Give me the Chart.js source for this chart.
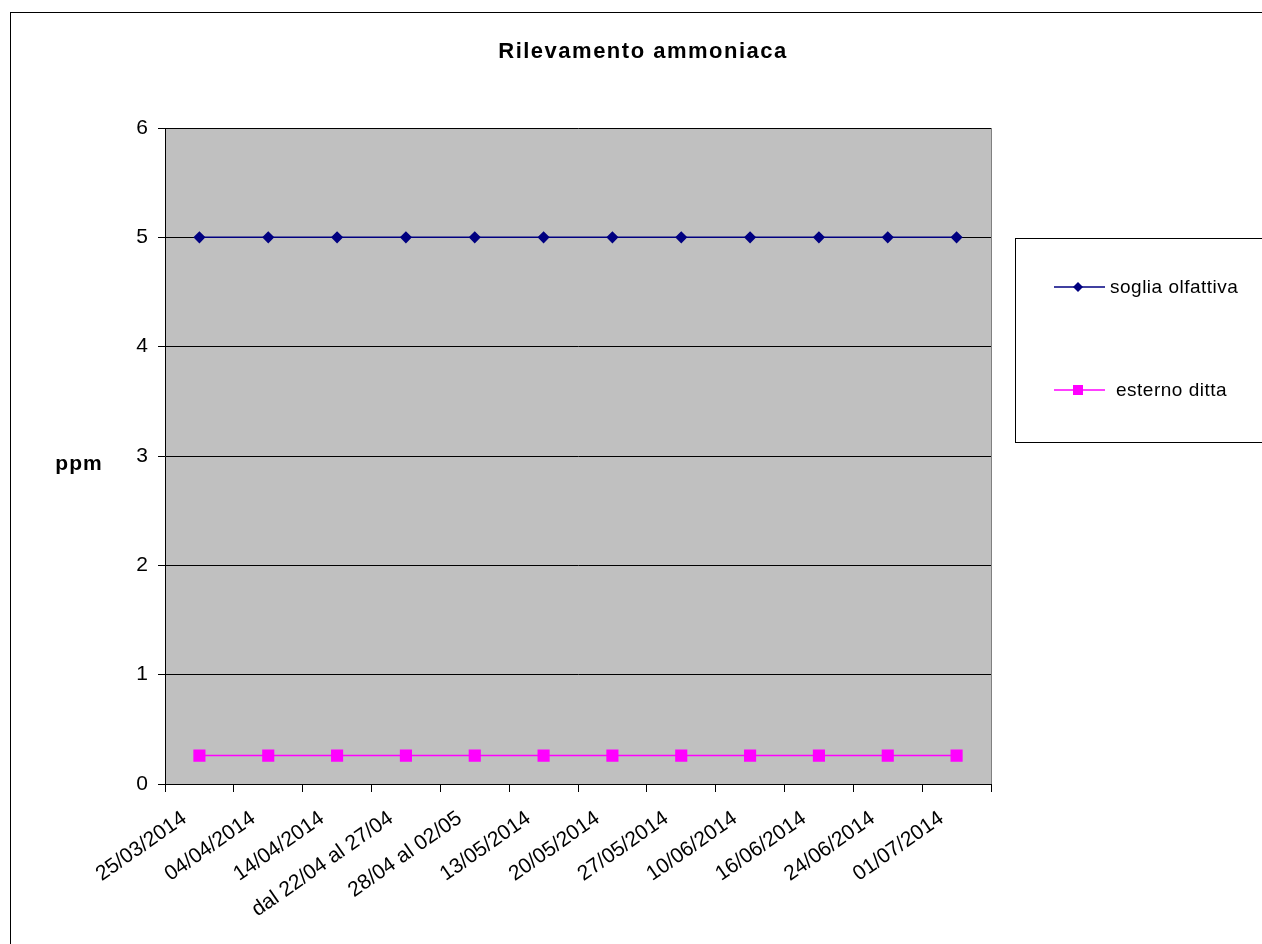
<!DOCTYPE html>
<html>
<head>
<meta charset="utf-8">
<title>Rilevamento ammoniaca</title>
<script src="https://cdn.jsdelivr.net/npm/chart.js@4/dist/chart.umd.min.js"></script>
<style>
  html, body { margin: 0; padding: 0; background: #fff; }
  #wrap { width: 1262px; height: 944px; }
</style>
</head>
<body>
<div id="wrap"><canvas id="theChart" width="1262" height="944"></canvas></div>
<script>
"use strict";

// Data
const dates = [
  "25/03/2014", "04/04/2014", "14/04/2014", "dal 22/04 al 27/04",
  "28/04 al 02/05", "13/05/2014", "20/05/2014", "27/05/2014",
  "10/06/2014", "16/06/2014", "24/06/2014", "01/07/2014"
];
const sogliaOlfattiva = [5, 5, 5, 5, 5, 5, 5, 5, 5, 5, 5, 5];
const esternoDitta = [0.26, 0.26, 0.26, 0.26, 0.26, 0.26, 0.26, 0.26, 0.26, 0.26, 0.26, 0.26];
const seriesNames = ["soglia olfattiva", "esterno ditta"];
const chartTitle = "Rilevamento ammoniaca";
const yTitle = "ppm";

const FONT = "'Liberation Sans', Arial, sans-serif";

// Background, frame, title, axis label and legend box
const decor = {
  id: "decor",
  beforeDraw(chart) {
    const { ctx, chartArea: a } = chart;
    ctx.save();
    ctx.fillStyle = "#fff";
    ctx.fillRect(0, 0, chart.width, chart.height);
    ctx.fillStyle = "#c0c0c0";
    ctx.fillRect(a.left, a.top, a.right - a.left, a.bottom - a.top);
    ctx.restore();
  },
  afterDraw(chart) {
    const { ctx, chartArea: a } = chart;
    ctx.save();

    // plot area right edge
    ctx.strokeStyle = "#808080";
    ctx.lineWidth = 1;
    ctx.beginPath();
    ctx.moveTo(Math.round(a.right) + 0.5, a.top);
    ctx.lineTo(Math.round(a.right) + 0.5, a.bottom);
    ctx.stroke();

    // outer frame
    ctx.strokeStyle = "#000";
    ctx.strokeRect(10.5, 12.5, chart.width, chart.height);

    // title
    ctx.fillStyle = "#000";
    ctx.font = "bold 22px " + FONT;
    ctx.letterSpacing = "1.5px";
    ctx.textAlign = "center";
    ctx.textBaseline = "middle";
    ctx.fillText(chartTitle, 643, 52);

    // y label
    ctx.font = "bold 21px " + FONT;
    ctx.letterSpacing = "1px";
    ctx.fillText(yTitle, 79, 464);

    // legend
    ctx.letterSpacing = "0.5px";
    ctx.strokeStyle = "#000";
    ctx.strokeRect(1015.5, 238.5, 260, 204);
    ctx.font = "19px " + FONT;
    ctx.textAlign = "left";
    const rows = [287, 390];
    const textX = [1110, 1116];
    chart.data.datasets.forEach((ds, i) => {
      const y = rows[i];
      ctx.strokeStyle = ds.borderColor;
      ctx.lineWidth = 1.5;
      ctx.beginPath();
      ctx.moveTo(1054, y);
      ctx.lineTo(1105, y);
      ctx.stroke();
      ctx.fillStyle = ds.pointBackgroundColor;
      ctx.beginPath();
      if (ds.pointStyle === "rectRot") {
        ctx.moveTo(1078 - 5, y);
        ctx.lineTo(1078, y - 5);
        ctx.lineTo(1078 + 5, y);
        ctx.lineTo(1078, y + 5);
        ctx.closePath();
      } else {
        ctx.rect(1078 - 5, y - 5, 10, 10);
      }
      ctx.fill();
      ctx.fillStyle = "#000";
      ctx.fillText(ds.label, textX[i], y + 1);
    });
    ctx.restore();
  }
};

new Chart(document.getElementById("theChart"), {
  type: "line",
  data: {
    labels: dates,
    datasets: [
      {
        label: seriesNames[0],
        data: sogliaOlfattiva,
        borderColor: "#000080",
        backgroundColor: "#000080",
        pointBackgroundColor: "#000080",
        pointBorderColor: "#000080",
        pointStyle: "rectRot",
        pointRadius: 5,
        borderWidth: 1.5,
        tension: 0
      },
      {
        label: seriesNames[1],
        data: esternoDitta,
        borderColor: "#ff00ff",
        backgroundColor: "#ff00ff",
        pointBackgroundColor: "#ff00ff",
        pointBorderColor: "#ff00ff",
        pointStyle: "rect",
        pointRadius: 7.5,
        borderWidth: 1.5,
        tension: 0
      }
    ]
  },
  options: {
    responsive: false,
    animation: false,
    devicePixelRatio: 1,
    layout: { padding: { left: 100, right: 271, top: 128, bottom: 20 } },
    plugins: {
      legend: { display: false },
      title: { display: false },
      tooltip: { enabled: false }
    },
    scales: {
      x: {
        type: "category",
        offset: true,
        afterFit(scale) { scale.height = 140; },
        grid: {
          offset: true,
          drawOnChartArea: false,
          drawTicks: true,
          tickLength: 8,
          color: "#000"
        },
        border: { color: "#000", width: 1 },
        ticks: {
          color: "#000",
          font: { family: FONT, size: 21 },
          minRotation: 35,
          maxRotation: 35,
          autoSkip: false,
          padding: 14,
          labelOffset: -15
        }
      },
      y: {
        min: 0,
        max: 6,
        afterFit(scale) { scale.width = 65; },
        grid: {
          color: "#000",
          tickLength: 7,
          drawTicks: true
        },
        border: { color: "#000", width: 1 },
        ticks: {
          stepSize: 1,
          color: "#000",
          font: { family: FONT, size: 21 },
          padding: 10
        }
      }
    }
  },
  plugins: [decor]
});
</script>
</body>
</html>
